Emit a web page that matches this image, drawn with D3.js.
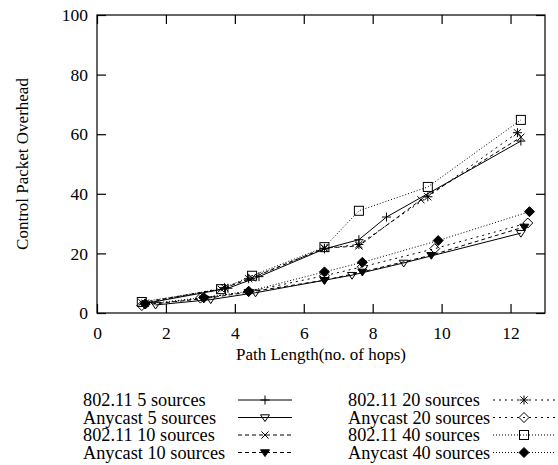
<!DOCTYPE html>
<html>
<head>
<meta charset="utf-8">
<script src="https://cdn.jsdelivr.net/npm/d3@7"></script>
<style>
  body { margin: 0; background: #fff; }
  svg { display: block; }
</style>
</head>
<body>
<svg id="chart" width="558" height="465"></svg>
<script>
// Control packet overhead vs. path length, one series per protocol/source count
const seriesNames = [
  "802.11 5 sources", "Anycast 5 sources",
  "802.11 10 sources", "Anycast 10 sources",
  "802.11 20 sources", "Anycast 20 sources",
  "802.11 40 sources", "Anycast 40 sources"
];

// [path length (hops), overhead]
const ieee5  = [[1.4, 3.2], [3.8, 8.3], [4.7, 12.2], [6.6, 21.5], [7.6, 24.6], [8.4, 32.2], [12.3, 57.7]];
const any5   = [[1.7, 2.7], [3.3, 4.5], [4.6, 6.8], [6.6, 11.0], [7.4, 12.7], [8.9, 16.8], [12.3, 26.8]];
const ieee10 = [[1.3, 3.5], [3.6, 8.0], [4.5, 11.8], [6.6, 21.8], [7.6, 22.5], [9.4, 38.0], [12.3, 59.0]];
const any10  = [[1.4, 2.8], [3.1, 4.8], [4.4, 7.0], [6.6, 11.0], [7.7, 13.8], [9.7, 19.4], [12.4, 28.9]];
const ieee20 = [[1.4, 3.3], [3.7, 8.5], [4.4, 11.5], [6.6, 21.7], [7.6, 23.0], [9.6, 39.0], [12.2, 60.5]];
const any20  = [[1.3, 2.5], [3.0, 5.0], [4.4, 7.2], [6.6, 12.5], [7.7, 15.5], [9.8, 21.6], [12.5, 30.2]];
const ieee40 = [[1.3, 3.7], [3.6, 8.0], [4.5, 12.5], [6.6, 22.1], [7.6, 34.3], [9.6, 42.3], [12.3, 64.8]];
const any40  = [[1.4, 3.0], [3.1, 5.2], [4.4, 7.3], [6.6, 13.8], [7.7, 17.0], [9.9, 24.3], [12.55, 34.0]];

const seriesData = [ieee5, any5, ieee10, any10, ieee20, any20, ieee40, any40];

const xTicks = [0, 2, 4, 6, 8, 10, 12];
const yTicks = [0, 20, 40, 60, 80, 100];

// line style and marker for each series
const dashes  = [null, null, "4,3", "4,3", "2,4", "2,4", "1,2", "1,2"];
const markers = ["plus", "triDown", "cross", "triDownFilled", "star", "diamond", "square", "diamondFilled"];

const serifFont = "Liberation Serif";

const svg = d3.select("#chart");
const plotLeft = 97, plotRight = 545, plotTop = 15, plotBottom = 313;

const x = d3.scaleLinear().domain([0, 13]).range([plotLeft, plotRight]);
const y = d3.scaleLinear().domain([0, 100]).range([plotBottom, plotTop]);

// frame
svg.append("rect")
  .attr("x", plotLeft).attr("y", plotTop)
  .attr("width", plotRight - plotLeft).attr("height", plotBottom - plotTop)
  .attr("fill", "none").attr("stroke", "#000").attr("stroke-width", 1.2);

const tickLen = 9;

const gx = svg.append("g").attr("transform", `translate(0,${plotBottom})`)
  .call(d3.axisBottom(x).tickValues(xTicks).tickSize(-tickLen).tickPadding(14).tickFormat(d3.format("d")));
const gxTop = svg.append("g").attr("transform", `translate(0,${plotTop})`)
  .call(d3.axisTop(x).tickValues(xTicks).tickSize(-tickLen).tickFormat(""));
const gy = svg.append("g").attr("transform", `translate(${plotLeft},0)`)
  .call(d3.axisLeft(y).tickValues(yTicks).tickSize(-tickLen).tickPadding(9).tickFormat(d3.format("d")));
const gyRight = svg.append("g").attr("transform", `translate(${plotRight},0)`)
  .call(d3.axisRight(y).tickValues(yTicks).tickSize(-tickLen).tickFormat(""));

[gx, gxTop, gy, gyRight].forEach(g => {
  g.attr("font-family", null).attr("font-size", null);
  g.style("font-family", serifFont).style("font-size", "17.5px");
  g.select(".domain").remove();
  g.selectAll(".tick line").attr("stroke", "#000").attr("stroke-width", 1.2);
  g.selectAll("text").attr("fill", "#000");
});

// axis titles
svg.append("text")
  .attr("x", (plotLeft + plotRight) / 2).attr("y", 360)
  .attr("text-anchor", "middle")
  .style("font-family", serifFont).style("font-size", "17px")
  .text("Path Length(no. of hops)");
svg.append("text")
  .attr("transform", `translate(28,164) rotate(-90)`)
  .attr("text-anchor", "middle")
  .style("font-family", serifFont).style("font-size", "17px")
  .text("Control Packet Overhead");

// marker drawing
function drawMarker(g, kind, cx, cy) {
  const s = 4.5;
  const stroke = { stroke: "#000", "stroke-width": 1 };
  const apply = (sel, attrs) => { Object.entries(attrs).forEach(([k, v]) => sel.attr(k, v)); return sel; };
  if (kind === "plus" || kind === "star") {
    apply(g.append("path").attr("d", `M${cx - s},${cy}H${cx + s}M${cx},${cy - s}V${cy + s}`).attr("fill", "none"), stroke);
  }
  if (kind === "cross" || kind === "star") {
    const c = s * 0.8;
    apply(g.append("path").attr("d", `M${cx - c},${cy - c}L${cx + c},${cy + c}M${cx - c},${cy + c}L${cx + c},${cy - c}`).attr("fill", "none"), stroke);
  }
  if (kind === "triDown" || kind === "triDownFilled") {
    const h = 4.5;
    apply(g.append("path")
      .attr("d", `M${cx - h},${cy - h * 0.6}L${cx + h},${cy - h * 0.6}L${cx},${cy + h * 0.9}Z`)
      .attr("fill", kind === "triDownFilled" ? "#000" : "none"), stroke);
  }
  if (kind === "diamond" || kind === "diamondFilled") {
    const d = 5;
    apply(g.append("path")
      .attr("d", `M${cx},${cy - d}L${cx + d},${cy}L${cx},${cy + d}L${cx - d},${cy}Z`)
      .attr("fill", kind === "diamondFilled" ? "#000" : "none"), stroke);
  }
  if (kind === "square") {
    const q = 4.5;
    apply(g.append("rect").attr("x", cx - q).attr("y", cy - q).attr("width", 2 * q).attr("height", 2 * q)
      .attr("fill", "none"), stroke);
  }
}

const line = d3.line().x(d => x(d[0])).y(d => y(d[1]));

const plot = svg.append("g");
seriesData.forEach((data, i) => {
  const g = plot.append("g").attr("class", "series");
  g.append("path")
    .attr("d", line(data))
    .attr("fill", "none")
    .attr("stroke", "#000")
    .attr("stroke-width", 1)
    .attr("stroke-dasharray", dashes[i]);
  data.forEach(d => drawMarker(g, markers[i], x(d[0]), y(d[1])));
});

// legend: two columns of four entries
const legendRows = [400, 417.5, 435, 452.5];
const legendCols = [
  { text: 83, l1: 238, l2: 292 },
  { text: 348, l1: 493, l2: 555 }
];
seriesNames.forEach((name, i) => {
  const col = legendCols[Math.floor(i / 4)];
  const ry = legendRows[i % 4];
  const g = svg.append("g").attr("class", "legend-item");
  g.append("text").attr("x", col.text).attr("y", ry).attr("dy", "0.33em")
    .style("font-family", serifFont).style("font-size", "18.3px")
    .attr("fill", "#000")
    .text(name);
  g.append("line").attr("x1", col.l1).attr("x2", col.l2).attr("y1", ry).attr("y2", ry)
    .attr("stroke", "#000").attr("stroke-width", 1).attr("stroke-dasharray", dashes[i]);
  drawMarker(g, markers[i], (col.l1 + col.l2) / 2, ry);
});
</script>
</body>
</html>
